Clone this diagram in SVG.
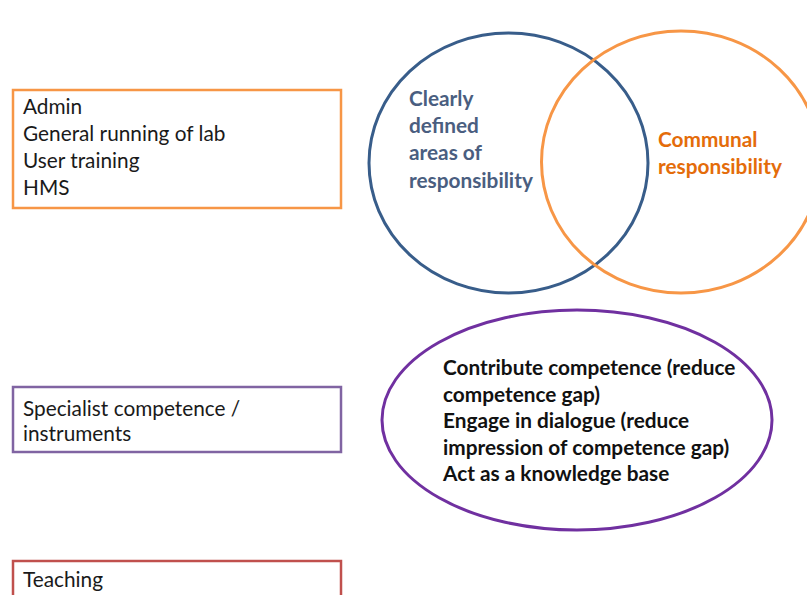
<svg xmlns="http://www.w3.org/2000/svg" width="807" height="595" viewBox="0 0 807 595">
  <style>
    .box { fill: #ffffff; stroke-width: 2.5; }
    .lbl { font-family: Lato, "Open Sans", "Liberation Sans", sans-serif; font-size: 20.8px; fill: #1a1a1a; }
    .bold { font-family: Lato, "Open Sans", "Liberation Sans", sans-serif; font-size: 20.8px; font-weight: bold; }
    .ring { fill: none; stroke-width: 3; }
  </style>
  <rect width="807" height="595" fill="#ffffff"/>

  <!-- Left-hand task boxes -->
  <g id="box-admin">
    <rect class="box" x="13" y="90" width="328" height="118" stroke="#F79646"/>
    <text class="lbl" x="23" y="114">Admin</text>
    <text class="lbl" x="23" y="141">General running of lab</text>
    <text class="lbl" x="23" y="168">User training</text>
    <text class="lbl" x="23" y="195">HMS</text>
  </g>
  <g id="box-specialist">
    <rect class="box" x="13" y="387" width="328" height="65" stroke="#8064A2"/>
    <text class="lbl" x="23" y="416">Specialist competence /</text>
    <text class="lbl" x="23" y="441">instruments</text>
  </g>
  <g id="box-teaching">
    <rect class="box" x="13" y="561" width="328" height="60" stroke="#C0504D"/>
    <text class="lbl" x="23" y="587">Teaching</text>
  </g>

  <!-- Responsibility Venn -->
  <g id="venn-defined">
    <ellipse class="ring" cx="508.5" cy="163" rx="139.5" ry="130" stroke="#385D8A"/>
    <g class="bold" fill="#4A5E80">
      <text x="409" y="106">Clearly</text>
      <text x="409" y="133">defined</text>
      <text x="409" y="160">areas of</text>
      <text x="409" y="188">responsibility</text>
    </g>
  </g>
  <g id="venn-communal">
    <ellipse class="ring" cx="681" cy="162" rx="139.5" ry="131" stroke="#F79646"/>
    <g class="bold" fill="#E46C0A">
      <text x="658" y="147">Communal</text>
      <text x="658" y="174">responsibility</text>
    </g>
  </g>

  <!-- Specialist contribution ellipse -->
  <g id="contribution">
    <ellipse class="ring" cx="577" cy="420" rx="195" ry="110" stroke="#7030A0"/>
    <g class="bold" fill="#111111">
      <text x="443" y="375">Contribute competence (reduce</text>
      <text x="443" y="402">competence gap)</text>
      <text x="443" y="428">Engage in dialogue (reduce</text>
      <text x="443" y="455">impression of competence gap)</text>
      <text x="443" y="481">Act as a knowledge base</text>
    </g>
  </g>
</svg>
